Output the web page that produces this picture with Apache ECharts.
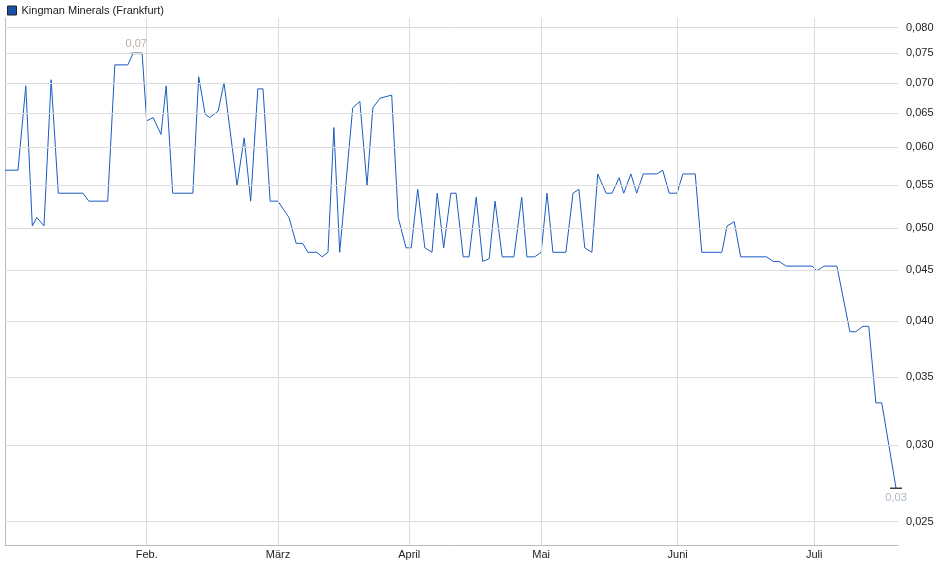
<!DOCTYPE html>
<html><head><meta charset="utf-8">
<script src="https://cdn.jsdelivr.net/npm/echarts@6/dist/echarts.min.js"></script>
<style>html,body{margin:0;padding:0;background:#fff}#c{width:940px;height:579px}</style>
</head><body><div id="c"></div>
<script>
// trading-day index (x) and price (EUR)
const dayIdx = [0,2,3.2,4.2,4.9,6,7.1,8.2,12,12.9,15.8,16.9,18.9,19.7,21.1,21.8,22.8,24,24.8,25.8,28.9,29.8,30.8,31.5,32.8,33.7,35.7,36.8,37.8,38.9,39.7,40.8,42,43.7,44.8,45.8,46.6,48,48.8,49.7,50.6,51.5,53.5,54.6,55.7,56.6,57.7,59.5,60.5,61.7,62.5,63.5,64.6,65.7,66.5,67.5,68.6,69.4,70.5,71.4,72.5,73.5,74.5,75.4,76.5,78.3,79.5,80.3,81.5,82.5,83.4,84.3,86.3,87.4,88.3,89.2,90.3,91.2,92.5,93.4,94.5,95.2,96.3,97.2,98.2,100.3,101.2,102.2,103.4,104.3,106.2,107.2,110.3,111.1,112.2,113.2,117.2,118.2,119.1,120.2,124.2,124.9,126,128,130,130.9,132,132.9,134,134.9,137.1];
const prices = [.057,.057,.0695,.050,.051,.050,.0705,.054,.054,.053,.053,.073,.073,.075,.075,.064,.0645,.062,.0695,.054,.054,.071,.065,.0645,.0655,.070,.055,.0615,.053,.069,.069,.053,.053,.051,.048,.048,.047,.047,.0465,.047,.063,.047,.066,.067,.055,.066,.0675,.068,.051,.0475,.0475,.0545,.0475,.047,.054,.0475,.054,.054,.0465,.0465,.0535,.046,.0463,.053,.0465,.0465,.0535,.0465,.0465,.047,.054,.047,.047,.054,.0545,.0475,.047,.0565,.054,.054,.056,.054,.0565,.054,.0565,.0565,.057,.054,.054,.0565,.0565,.047,.047,.050,.0505,.0465,.0465,.046,.046,.0455,.0455,.045,.0455,.0455,.039,.039,.0395,.0395,.033,.033,.027];
const monthLabels = ['Feb.','März','April','Mai','Juni','Juli'];
const monthIdx = [21.8,42,62.2,82.5,103.5,124.5];
const yTicks = [0.025,0.030,0.035,0.040,0.045,0.050,0.055,0.060,0.065,0.070,0.075,0.080];

const L = Math.log;
const fmt = v => v.toFixed(3).replace('.', ',');
const data = dayIdx.map((x,i)=>[x, L(prices[i])]);
const maxV = Math.max(...prices), minV = Math.min(...prices);
const iMax = prices.indexOf(maxV), iMin = prices.lastIndexOf(minV);

const grid = '#dcdcdc';
const chart = echarts.init(document.getElementById('c'));
chart.setOption({
  animation:false,
  textStyle:{fontFamily:'Liberation Sans, Arial, sans-serif'},
  legend:{left:2,top:0,itemWidth:9,itemHeight:9,itemGap:4,icon:'rect',
    textStyle:{fontSize:11,color:'#222'},data:[{name:'Kingman Minerals (Frankfurt)',itemStyle:{color:'#1a4fa8',borderColor:'#222',borderWidth:1}}]},
  grid:{left:5,right:42,top:18,bottom:34},
  xAxis:{type:'value',min:0,max:137.4,axisLabel:{show:false},axisTick:{show:false},splitLine:{show:false},
    axisLine:{show:true,lineStyle:{color:'#bbb'}}},
  yAxis:{type:'value',min:L(0.02363),max:L(0.0815),axisLabel:{show:false},axisTick:{show:false},splitLine:{show:false},
    axisLine:{show:true,lineStyle:{color:'#bbb'}}},
  series:[
    {name:'Kingman Minerals (Frankfurt)',type:'line',data:data,symbol:'none',
     lineStyle:{color:'#1a5cc0',width:1},itemStyle:{color:'#1a4fa8'},z:3,
     markLine:{silent:true,symbol:'none',animation:false,lineStyle:{color:grid,type:'solid',width:1},
       data:[
         ...yTicks.map(v=>({yAxis:L(v),label:{show:true,position:'end',formatter:fmt(v),color:'#222',fontSize:11,distance:8}})),
         ...monthIdx.map((x,i)=>({xAxis:x,label:{show:true,position:'start',formatter:monthLabels[i],color:'#222',fontSize:11,distance:4}}))
       ]}},
    {type:'scatter',symbol:'rect',symbolSize:[12,1.5],itemStyle:{color:'#111'},z:4,
     data:[
       {value:[dayIdx[iMax]+0.5,L(maxV)],label:{show:true,position:'top',distance:3,formatter:'0,07',color:'#a89c80',fontSize:11}},
       {value:[dayIdx[iMin],L(minV)],label:{show:true,position:'bottom',distance:3,formatter:'0,03',color:'#98a8b8',fontSize:11}}
     ]}
  ]
});
</script></body></html>
